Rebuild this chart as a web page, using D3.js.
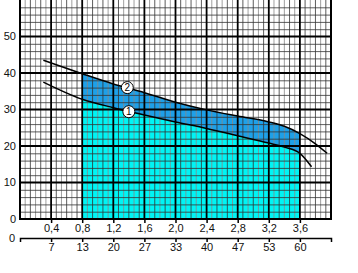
<!DOCTYPE html>
<html>
<head>
<meta charset="utf-8">
<script src="https://cdn.jsdelivr.net/npm/d3@7"></script>
<style>
  body { margin: 0; background: #fff; }
  svg { display: block; font-family: Arial, "Liberation Sans", sans-serif; }
</style>
</head>
<body>
<div class="chart"></div>
<script>
// pump curve: head (m) vs flow (m3/h, l/min)
const flowTicks = [0.4, 0.8, 1.2, 1.6, 2.0, 2.4, 2.8, 3.2, 3.6];
const flowLabels = ["0,4", "0,8", "1,2", "1,6", "2,0", "2,4", "2,8", "3,2", "3,6"];
const lminLabels = ["7", "13", "20", "27", "33", "40", "47", "53", "60"];
const headTicks = [0, 10, 20, 30, 40, 50];

const curve1 = [[0.3, 37.5], [0.8, 32.8], [1.2, 30.5], [1.6, 28.5], [2.0, 26.6], [2.4, 24.8],
  [2.8, 22.8], [3.2, 20.8], [3.4, 19.7], [3.6, 18.0], [3.75, 14.3]];
const curve2 = [[0.3, 43.5], [0.8, 39.8], [1.2, 37.0], [1.6, 34.6], [2.0, 32.0], [2.4, 29.9],
  [2.8, 28.2], [3.2, 26.6], [3.4, 25.4], [3.6, 23.4], [3.8, 20.6], [3.95, 18.0]];
const markers = [{ id: "1", q: 1.4, h: 29.4 }, { id: "2", q: 1.38, h: 36.0 }];
const range = [0.8, 3.6];

!function () {
	const width = 358, height = 273;
	const x = d3.scaleLinear().domain([0, 4]).range([20, 331]);
	const y = d3.scaleLinear().domain([0, 60]).range([219, 0]);

	const svg = d3.select(".chart").append("svg")
		.attr("width", width).attr("height", height)
		.attr("viewBox", [0, 0, width, height]);

	svg.append("clipPath").attr("id", "band")
		.append("rect")
		.attr("x", x(range[0])).attr("y", y(60))
		.attr("width", x(range[1]) - x(range[0]))
		.attr("height", y(0) - y(60));

	const area = data => d3.area().curve(d3.curveMonotoneX)
		.x(d => x(d[0])).y0(y(0)).y1(d => y(d[1]))(data);

	const fills = svg.append("g").attr("clip-path", "url(#band)");
	fills.append("path").attr("d", area(curve2)).attr("fill", "#1ea0e8");
	fills.append("path").attr("d", area(curve1)).attr("fill", "#00f4f4");

	// minor grid
	const minorX = d3.range(1, 60).map(i => i * 0.4 / 6).filter((v, i) => (i + 1) % 6 !== 0);
	const minorY = d3.range(1, 30).map(i => i * 2).filter(v => v % 10 !== 0);
	const grid = svg.append("g");
	grid.selectAll(".mx").data(minorX).join("line")
		.attr("x1", d => x(d)).attr("x2", d => x(d))
		.attr("y1", y(60)).attr("y2", y(0))
		.attr("stroke", (d, i) => i % 2 ? "#333" : "#888").attr("stroke-width", 0.8);
	grid.selectAll(".my").data(minorY).join("line")
		.attr("x1", x(0)).attr("x2", x(4))
		.attr("y1", d => y(d) + 0.5).attr("y2", d => y(d) + 0.5)
		.attr("stroke", "#333").attr("stroke-width", 0.8);

	// major grid
	grid.selectAll(".Mx").data(flowTicks).join("line")
		.attr("x1", d => x(d)).attr("x2", d => x(d))
		.attr("y1", y(60)).attr("y2", y(0))
		.attr("stroke", "#000").attr("stroke-width", 1.8);
	grid.selectAll(".My").data(headTicks.slice(1)).join("line")
		.attr("x1", x(0)).attr("x2", x(4))
		.attr("y1", d => y(d)).attr("y2", d => y(d))
		.attr("stroke", "#000").attr("stroke-width", 1.8);

	// frame
	svg.append("path")
		.attr("d", `M${x(0)},${y(60)}V${y(0)}H${x(4)}V${y(60)}`)
		.attr("fill", "none").attr("stroke", "#000").attr("stroke-width", 2);

	// curves
	const line = d3.line().curve(d3.curveMonotoneX).x(d => x(d[0])).y(d => y(d[1]));
	svg.selectAll(".curve").data([curve1, curve2]).join("path")
		.attr("d", line).attr("fill", "none")
		.attr("stroke", "#000").attr("stroke-width", 1.5);

	const mk = svg.append("g").selectAll("g").data(markers).join("g")
		.attr("transform", d => `translate(${x(d.q)},${y(d.h)})`);
	mk.append("circle").attr("r", 6).attr("fill", "#fff").attr("stroke", "#000").attr("stroke-width", 1);
	mk.append("text").attr("text-anchor", "middle").attr("dy", "0.36em")
		.style("font-size", "10px").text(d => d.id);

	// y labels
	svg.append("g").attr("text-anchor", "end").style("font-size", "11px").attr("fill", "#111")
		.selectAll("text").data(headTicks).join("text")
		.attr("x", 16).attr("y", d => y(d)).attr("dy", "0.36em").text(d => d);

	// top flow axis (m3/h)
	const ax1 = d3.axisBottom(x).tickValues(flowTicks).tickSize(4)
		.tickFormat((d, i) => flowLabels[i]);
	svg.append("g").attr("transform", `translate(0,${y(0)})`).call(ax1)
		.call(g => g.select(".domain").remove())
		.call(g => g.selectAll("line").attr("stroke-width", 1.5))
		.call(g => g.selectAll("text").attr("y", 5).style("font-size", "11px")
			.style("font-family", "Arial, 'Liberation Sans', sans-serif").attr("fill", "#111"));

	// bottom flow axis (l/min)
	const ax2 = d3.axisBottom(x).tickValues(flowTicks).tickSize(4).tickSizeOuter(4)
		.tickFormat((d, i) => lminLabels[i]);
	svg.append("g").attr("transform", `translate(0,238)`).call(ax2)
		.call(g => g.select(".domain").attr("stroke-width", 1.5))
		.call(g => g.selectAll("line").attr("stroke-width", 1.5))
		.call(g => g.selectAll("text").attr("y", 5).style("font-size", "11px")
			.style("font-family", "Arial, 'Liberation Sans', sans-serif").attr("fill", "#111"));
	svg.append("text").attr("x", 12).attr("y", 238).attr("dy", "0.36em")
		.attr("text-anchor", "middle").style("font-size", "11px").attr("fill", "#111").text("0");
}();
</script>
</body>
</html>
